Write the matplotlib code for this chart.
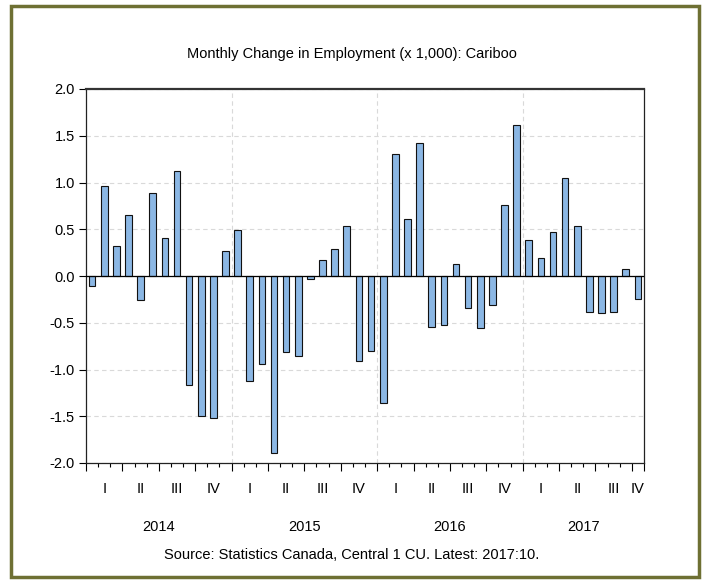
import matplotlib
matplotlib.use("Agg")
import matplotlib.pyplot as plt
import matplotlib.transforms as mtransforms
from matplotlib.patches import Rectangle
from matplotlib.ticker import FixedLocator

plt.rcParams['font.family'] = ['Liberation Sans', 'DejaVu Sans']

years = ["2014", "2015", "2016", "2017"]
quarters = ["I", "II", "III", "IV"]
values = [
    -0.11, 0.96, 0.32, 0.65, -0.26, 0.89, 0.41, 1.12, -1.17, -1.50, -1.52, 0.27,
    0.49, -1.12, -0.94, -1.89, -0.81, -0.86, -0.03, 0.175, 0.29, 0.54, -0.91, -0.80,
    -1.36, 1.31, 0.61, 1.425, -0.55, -0.52, 0.13, -0.34, -0.56, -0.31, 0.76, 1.62,
    0.39, 0.19, 0.475, 1.05, 0.535, -0.39, -0.40, -0.38, 0.07, -0.25,
]
title = "Monthly Change in Employment (x 1,000): Cariboo"
source = "Source: Statistics Canada, Central 1 CU. Latest: 2017:10."

n = len(values)
fig = plt.figure(figsize=(7.04, 5.80), dpi=100)
fig.patch.set_facecolor("white")

# olive frame
fig.patches.append(Rectangle((11 / 704, 3 / 580), (699 - 11) / 704, (574 - 3) / 580,
                             transform=fig.transFigure, fill=False,
                             edgecolor="#6e7033", linewidth=2.5))

ax = fig.add_axes([86 / 704, 1 - 463 / 580, (644 - 86) / 704, (463 - 89) / 580])
x = list(range(n))
ax.bar(x, values, width=0.55, color="#8bb7e4", edgecolor="#111111", linewidth=0.8, zorder=3)
ax.axhline(0, color="black", linewidth=0.9, zorder=4)

ax.set_xlim(-0.5, n - 0.5)
ax.set_ylim(-2.0, 2.0)
yt = [-2.0, -1.5, -1.0, -0.5, 0.0, 0.5, 1.0, 1.5, 2.0]
ax.set_yticks(yt)
ax.set_yticklabels([f"{v:.1f}" for v in yt], fontsize=10.5)
ax.tick_params(axis="y", direction="out", length=5, width=0.8, pad=3)

ax.grid(axis="y", linestyle=(0, (4, 3)), color="#d9d9d9", linewidth=0.8, zorder=0)
for b in range(12, n, 12):
    ax.axvline(b - 0.5, linestyle=(0, (4, 3)), color="#d9d9d9", linewidth=0.8, zorder=0)

major = [k - 0.5 for k in range(0, n + 1, 3)]
if (n - 0.5) not in major:
    major.append(n - 0.5)
minor = [k - 0.5 for k in range(0, n + 1)]
ax.xaxis.set_major_locator(FixedLocator(major))
ax.xaxis.set_minor_locator(FixedLocator(minor))
ax.tick_params(axis="x", which="major", direction="out", length=6, width=0.8, labelbottom=False)
ax.tick_params(axis="x", which="minor", direction="out", length=3, width=0.8)

for s in ["left", "right", "bottom"]:
    ax.spines[s].set_linewidth(0.9)
    ax.spines[s].set_color("#222222")
ax.spines["top"].set_linewidth(1.6)
ax.spines["top"].set_color("#333333")

trans = mtransforms.blended_transform_factory(ax.transData, fig.transFigure)
for qi in range(0, (n + 2) // 3):
    start = qi * 3
    end = min(start + 3, n)
    center = (start + end - 1) / 2
    ax.text(center, 1 - 489 / 580, quarters[qi % 4], transform=trans,
            ha="center", va="center", fontsize=10.5)
for yi, yr in enumerate(years):
    start = yi * 12
    end = min(start + 12, n)
    center = (start + end - 1) / 2
    ax.text(center, 1 - 527 / 580, yr, transform=trans,
            ha="center", va="center", fontsize=10.5)

fig.text(352 / 704, 1 - 54 / 580, title, ha="center", va="center", fontsize=10.5)
fig.text(352 / 704, 1 - 555 / 580, source, ha="center", va="center", fontsize=10.5)

fig.savefig("out.png", dpi=100, facecolor="white")
